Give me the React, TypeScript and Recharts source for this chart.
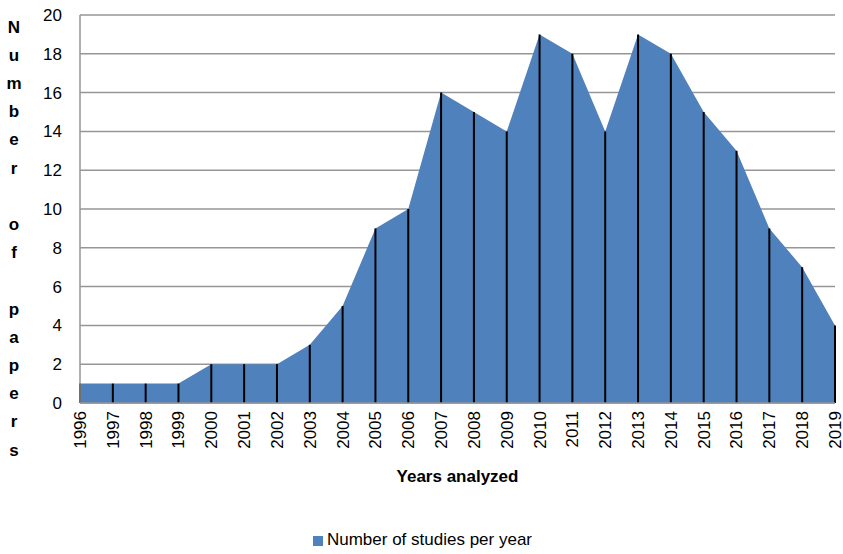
import React from 'react';
import { AreaChart, Area, XAxis, YAxis, CartesianGrid, Legend, ReferenceLine } from 'recharts';

const years = ['1996','1997','1998','1999','2000','2001','2002','2003','2004','2005','2006','2007','2008','2009','2010','2011','2012','2013','2014','2015','2016','2017','2018','2019'];
const studies = [1,1,1,1,2,2,2,3,5,9,10,16,15,14,19,18,14,19,18,15,13,9,7,4];
const yTicks = [0,2,4,6,8,10,12,14,16,18,20];
const seriesName = 'Number of studies per year';
const xTitle = 'Years analyzed';
const yTitle = 'Number of papers';

const data = years.map((y, i) => ({ year: y, value: studies[i] }));

const FONT = '"Liberation Sans Narrow", "Arial Narrow", "Liberation Sans", Arial, sans-serif';

const XTick = (props: any) => {
  const { x, y, payload } = props;
  return (
    <text x={x} y={y} transform={`rotate(-90, ${x}, ${y})`} textAnchor="end" dy="0.35em" fontSize={17} fill="#000" fontFamily={FONT}>
      {payload.value}
    </text>
  );
};

const YLabel = () => {
  const chars = yTitle.split('');
  return (
    <text x={14} y={27} textAnchor="middle" fontSize={17} fontWeight="bold" fill="#000" fontFamily={FONT}>
      {chars.map((c, i) => (
        <tspan key={i} x={14} y={27 + i * 28.2} dominantBaseline="central">{c === ' ' ? '' : c}</tspan>
      ))}
    </text>
  );
};

export default function App() {
  return (
    <div style={{ position: 'absolute', left: 0, top: 0, width: 843, height: 554, background: '#fff' }}>
      <AreaChart width={843} height={554} data={data} margin={{ top: 15, right: 8, bottom: 0, left: 0 }}>
        <CartesianGrid horizontal={true} vertical={false} stroke="#969696" strokeWidth={1.5} />
        <XAxis
          dataKey="year"
          tick={<XTick />}
          tickLine={false}
          axisLine={{ stroke: '#969696', strokeWidth: 1.5 }}
          interval={0}
          height={85}
          label={{ value: xTitle, position: 'insideBottom', offset: 6, fontSize: 17, fontWeight: 'bold', fill: '#000', fontFamily: FONT }}
        />
        <YAxis
          domain={[0, 20]}
          ticks={yTicks}
          width={80}
          tickLine={false}
          axisLine={{ stroke: '#969696', strokeWidth: 1.5 }}
          tick={{ fontSize: 17, fill: '#000', fontFamily: FONT }}
          tickMargin={12}
          label={<YLabel />}
        />
        <Area
          type="linear"
          dataKey="value"
          name={seriesName}
          fill="#4F81BD"
          fillOpacity={1}
          stroke="#4F81BD"
          strokeWidth={0}
          isAnimationActive={false}
          dot={false}
          activeDot={false}
        />
        {data.map((d) => (
          <ReferenceLine
            key={d.year}
            segment={[{ x: d.year, y: 0 }, { x: d.year, y: d.value }]}
            stroke="#000"
            strokeWidth={2}
            ifOverflow="visible"
          />
        ))}
        <Legend
          verticalAlign="bottom"
          height={66}
          iconType="square"
          iconSize={10}
          wrapperStyle={{ fontFamily: FONT, fontSize: 17, height: 66, paddingTop: 42, paddingLeft: 20, boxSizing: 'border-box' }}
          formatter={(v: string) => <span style={{ color: '#000' }}>{v}</span>}
        />
      </AreaChart>
    </div>
  );
}
